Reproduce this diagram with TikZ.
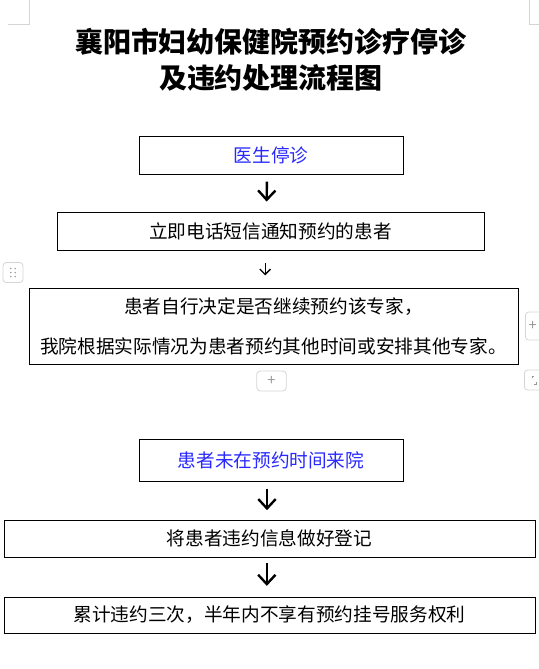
\documentclass[tikz,border=0pt]{standalone}
\usepackage{fontspec}
\setmainfont{Noto Sans CJK SC}
\usetikzlibrary{arrows.meta}
\definecolor{notice}{RGB}{40,40,255}
\definecolor{uigray}{RGB}{212,212,212}
\definecolor{uimark}{RGB}{150,150,150}
\tikzset{
    stepbox/.style={rectangle, draw, line width=0.7pt, inner sep=0pt, font=\fontsize{14}{30}\selectfont, align=center},
    flow/.style={-{Straight Barb[length=7pt, width=13pt]}, line width=1.8pt},
    flowsmall/.style={-{Straight Barb[length=4pt, width=8pt]}, line width=1pt},
    ui/.style={draw=uigray, line width=0.6pt, rounded corners=2.5pt, inner sep=0pt, text=uimark, font=\fontsize{11}{11}\selectfont}
}

\begin{document}
\begin{tikzpicture}[x=0.75pt, y=-0.75pt]
    \useasboundingbox (0,0) rectangle (539,669);

    % Page corner marks
    \draw[uigray, line width=0.6pt] (29,0) -- (29,24) -- (8,24);
    \draw[uigray, line width=0.6pt] (529,0) -- (529,24) -- (539,24);

    % Title
    \node[font=\fontsize{21}{27}\selectfont\bfseries, align=center] (title) at (271, 60) {襄阳市妇幼保健院预约诊疗停诊\\及违约处理流程图};

    % Doctor stops clinic
    \node[stepbox, text=notice, minimum width=198pt, minimum height=28.5pt] (stop) at (271, 155.5) {医生停诊};
    \node[stepbox, minimum width=320.25pt, minimum height=28.5pt] (notify) at (270.5, 231) {立即电话短信通知预约的患者};
    \node[stepbox, minimum width=366.75pt, minimum height=57pt] (decide) at (273.5, 326.5) {患者自行决定是否继续预约该专家，\\我院根据实际情况为患者预约其他时间或安排其他专家。};

    % Patient misses appointment
    \node[stepbox, text=notice, minimum width=198pt, minimum height=31.5pt] (absent) at (271, 460.5) {患者未在预约时间来院};
    \node[stepbox, minimum width=398.25pt, minimum height=27.75pt] (record) at (269.5, 538.5) {将患者违约信息做好登记};
    \node[stepbox, minimum width=398.25pt, minimum height=27pt] (limit) at (269.5, 615) {累计违约三次，半年内不享有预约挂号服务权利};

    % Arrows
    \draw[flow, shorten <=5pt, shorten >=7.5pt] ([xshift=-3pt]stop.south) -- ([xshift=-3pt]notify.north);
    \draw[flowsmall, shorten <=9.5pt, shorten >=9.5pt] ([xshift=-4pt]notify.south) -- ([xshift=-4pt]notify.south |- decide.north);
    \draw[flow, shorten <=5pt, shorten >=7pt] ([xshift=-3pt]absent.south) -- ([xshift=-3pt]absent.south |- record.north);
    \draw[flow, shorten <=4.5pt, shorten >=8pt] ([xshift=-2pt]record.south) -- ([xshift=-2pt]limit.north);

    % Editor handles
    \node[ui, minimum width=15pt, minimum height=15pt] (handle) at (13, 272.5) {};
    \foreach \dx in {-2.2,2.2}
        \foreach \dy in {-4,0,4}
            \fill[uimark] ([xshift=\dx*0.75pt, yshift=-\dy*0.75pt]handle.center) circle (0.6pt);
    \node[ui, minimum width=22pt, minimum height=15pt] (addrow) at (271.5, 381) {+};
    \node[ui, minimum width=15pt, minimum height=21pt, anchor=west] (addcol) at (525, 326) {\hspace*{-4pt}+};
    \node[ui, minimum width=15pt, minimum height=15pt, anchor=west] (resize) at (524, 380) {};
    \draw[uimark, line width=0.6pt] ([xshift=-1.5pt, yshift=1.5pt]resize.center) -- ++(0,1.5pt) -- ++(1.5pt,0);
    \draw[uimark, line width=0.6pt] ([xshift=1.5pt, yshift=-1.5pt]resize.center) -- ++(0,-1.5pt) -- ++(-1.5pt,0);
\end{tikzpicture}
\end{document}
